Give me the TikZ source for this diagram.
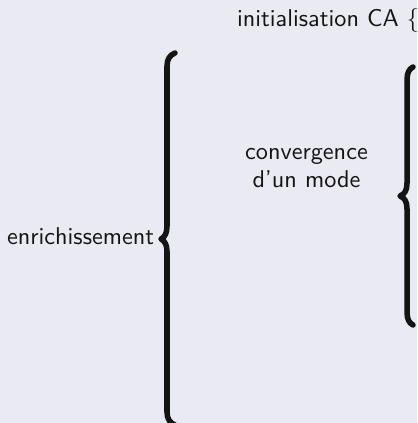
\documentclass[tikz,border=0pt]{standalone}
\usepackage{xcolor}
\definecolor{bgcol}{RGB}{234,234,242}
\definecolor{ink}{RGB}{20,20,20}
\begin{document}
\begin{tikzpicture}[x=0.41667pt,y=-0.41667pt,
  lbl/.style={inner sep=0pt,outer sep=0pt,text=ink,font=\fontsize{10.1}{11.7}\selectfont\sffamily},
  bracepath/.style={draw=ink,line width=2.3,line cap=round,line join=round}]
\fill[bgcol] (0,0) rectangle (417,423);
\useasboundingbox (0,0) rectangle (417,423);
\node[lbl,anchor=base west] (init) at (237,27) {initialisation CA $\{$};
\node[lbl,anchor=base west] (enr) at (7,245) {enrichissement};
\node[lbl,anchor=base,align=center] (conv) at (306.5,188) {convergence\\d'un mode};
\draw[bracepath] (175,53) .. controls (170,55) and (167,59) .. (167,66)
  -- (167,226) .. controls (167,233) and (165,237) .. (161,239)
  .. controls (165,241) and (167,245) .. (167,252)
  -- (167,412) .. controls (167,419) and (170,423) .. (175,425);
\draw[bracepath] (413,67) .. controls (409,69) and (407,73) .. (407,80)
  -- (407,183) .. controls (407,190) and (405,194) .. (400,196)
  .. controls (405,198) and (407,202) .. (407,209)
  -- (407,312) .. controls (407,319) and (409,323) .. (413,325);
\end{tikzpicture}
\end{document}
